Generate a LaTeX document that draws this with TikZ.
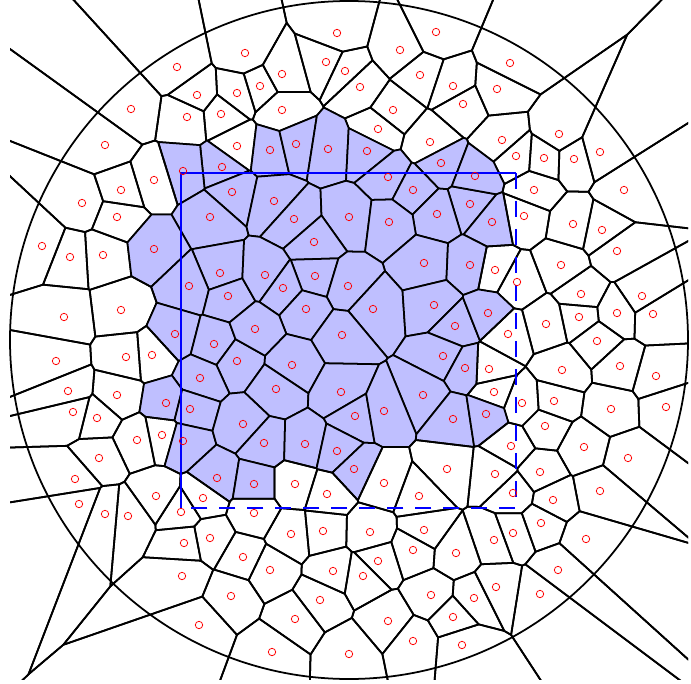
\documentclass[tikz,border=0pt]{standalone}

% 站点：x/y（像素，y 向下）/是否着色
\def\sites{177/67/0,197/95/0,237/93/0,131/109/0,187/117/0,221/114/0,237/146/0,105/145/0,
222/167/1,183/171/1,154/180/0,121/190/0,232/192/1,82/203/0,117/217/0,210/217/1,
337/33/0,436/32/0,245/53/0,400/50/0,326/62/0,345/71/0,282/74/0,420/75/0,260/86/0,
360/87/0,453/86/0,463/104/0,282/110/0,393/110/0,378/129/0,270/150/1,296/144/1,
328/149/1,367/151/1,430/142/0,441/163/1,388/177/1,413/190/1,274/201/1,470/204/1,
437/214/1,294/219/1,349/217/1,389/222/1,510/63/0,497/89/0,559/134/0,502/140/0,
600/152/0,516/156/0,544/158/0,574/159/0,475/176/1,624/190/0,534/190/0,492/222/1,
524/216/0,573/224/0,602/230/0,42/246/0,70/257/0,103/255/0,154/249/1,220/273/1,
189/286/1,228/296/1,64/317/0,121/310/0,175/334/1,214/344/1,56/361/0,126/357/0,
152/355/0,237/361/1,200/378/1,68/391/0,117/395/0,166/403/1,190/409/1,73/412/0,
97/418/0,137/440/0,162/435/0,183/441/1,99/458/0,
314/242/1,424/263/1,470/265/1,265/275/1,315/276/1,348/286/1,283/288/1,373/309/1,
306/309/1,434/305/1,455/326/1,255/329/1,342/335/1,443/356/1,465/368/1,292/365/1,
276/389/1,341/392/1,423/395/1,355/416/1,384/411/1,453/419/1,243/424/1,264/443/1,
305/444/1,337/451/1,
617/251/0,495/270/0,561/265/0,517/282/0,581/294/0,642/296/0,488/313/1,617/313/0,
579/317/0,653/314/0,546/324/0,508/334/0,597/341/0,489/369/0,620/366/0,562/370/0,
656/376/0,494/392/0,522/403/0,554/401/0,611/409/0,666/407/0,486/414/1,545/426/0,
511/446/0,584/447/0,628/458/0,
75/479/0,217/478/1,156/496/0,203/498/0,79/504/0,105/514/0,128/516/0,181/512/0,
184/543/0,210/538/0,182/576/0,231/596/0,199/625/0,
354/469/1,447/469/0,254/484/1,295/484/0,384/483/0,327/494/0,419/496/0,254/513/0,
291/534/0,323/531/0,370/532/0,424/530/0,413/550/0,456/553/0,243/557/0,378/561/0,
270/570/0,333/571/0,363/576/0,431/595/0,320/600/0,295/619/0,388/621/0,453/617/0,
413/641/0,462/645/0,272/652/0,349/654/0,
495/474/0,540/472/0,600/491/0,513/493/0,553/500/0,541/523/0,513/533/0,494/540/0,
586/539/0,558/570/0,496/587/0,540/594/0,474/598/0}

% 胞元多边形：以 1pt = 100 像素存放，逐个用中垂线半平面裁剪
\newdimen\cmx \newdimen\cmy
\newcount\cdx \newcount\cdy
\def\framepoly{\vtx{-0.2pt}{-0.2pt}\vtx{7.11pt}{-0.2pt}\vtx{7.11pt}{7.04pt}\vtx{-0.2pt}{7.04pt}}
\def\sval#1#2{\number\dimexpr(#1-\cmx)*\cdx+(#2-\cmy)*\cdy\relax}
\def\clippoly{%
  \let\newpoly\empty
  \def\vtx##1##2{\def\prevx{##1}\def\prevy{##2}}\poly
  \edef\prevs{\sval\prevx\prevy}%
  \let\vtx\cliponevtx\poly
  \global\let\poly\newpoly}
\def\cliponevtx#1#2{%
  \edef\curs{\sval{#1}{#2}}%
  \ifnum\curs>0\relax
    \ifnum\prevs>0\relax\else\addinter{#1}{#2}\fi
  \else
    \ifnum\prevs>0\relax\addinter{#1}{#2}\fi
    \edef\newpoly{\unexpanded\expandafter{\newpoly}\noexpand\vtx{#1}{#2}}%
  \fi
  \def\prevx{#1}\def\prevy{#2}\let\prevs\curs}
\def\addinter#1#2{%
  \edef\newpoly{\unexpanded\expandafter{\newpoly}\noexpand\vtx
    {\the\dimexpr\prevx+(#1-\prevx)*\prevs/\numexpr\prevs-\curs\relax\relax}%
    {\the\dimexpr\prevy+(#2-\prevy)*\prevs/\numexpr\prevs-\curs\relax\relax}}}
\def\cellvtx#1#2{\edef\cellpath{\cellpath(#1,#2) -- }}

\begin{document}
\begin{tikzpicture}[x=0.025cm,y=-0.025cm,
  cell/.style={line width=1.25pt,line join=round},
  cellfill/.style={fill=blue!25},
  site/.style={draw=red,line width=0.55pt},
  box/.style={draw=blue,line width=1.4pt}]
% ================ 画布 ================
\useasboundingbox (0,0) rectangle (691,684);
% ================ Voronoi 胞元（裁到外圆的外接方框） ================
\begin{scope}
\clip (10,1) rectangle (688,679);
\begin{scope}[xscale=71.132,yscale=-71.132]
\foreach \xa/\ya/\ba [count=\i] in \sites {
  \global\let\poly\framepoly
  \foreach \xb/\yb/\bb [count=\j] in \sites {
    \ifnum\i=\j\else
      \cmx=\dimexpr(\xa pt+\xb pt)/200\relax
      \cmy=\dimexpr(\ya pt+\yb pt)/200\relax
      \cdx=\numexpr\xb-\xa\relax
      \cdy=\numexpr\yb-\ya\relax
      \clippoly
    \fi}
  \def\cellpath{}\let\vtx\cellvtx\poly
  \ifnum\ba=1 \edef\next{\noexpand\filldraw[cell,cellfill] \cellpath cycle;}%
  \else \edef\next{\noexpand\draw[cell] \cellpath cycle;}\fi
  \next
}
\end{scope}
\end{scope}
% 外圆
\draw[cell] (349,340) circle (339);
% ================ 方框：上、左实线，右、下虚线 ================
\draw[box] (516,173) -- (181,173) -- (181,508);
\draw[box,dash pattern=on 11.4pt off 8.5pt] (516,173) -- (516,508) -- (181,508);
% 站点
\foreach \x/\y/\b in \sites {\draw[site] (\x,\y) circle (3.7);}
\end{tikzpicture}
\end{document}
